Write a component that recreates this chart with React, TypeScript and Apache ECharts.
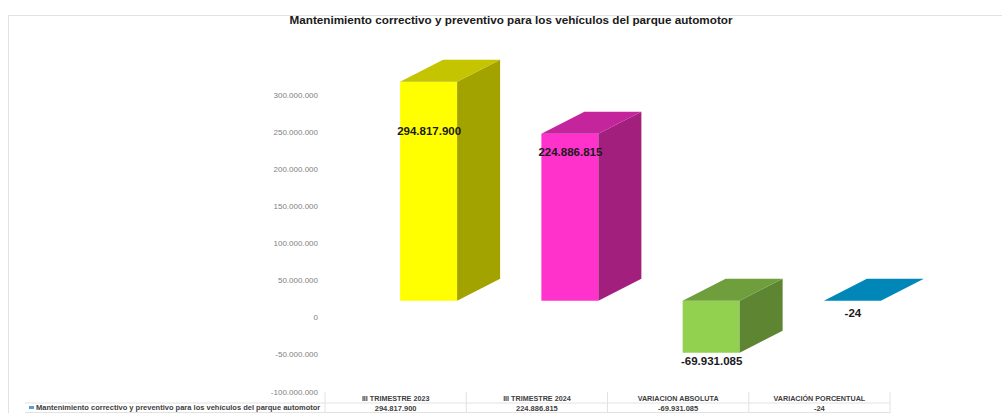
import React, { useEffect, useRef } from "react";
import * as echarts from "echarts";

const title = "Mantenimiento correctivo y preventivo para los vehículos del parque automotor";
const categories = ["III TRIMESTRE 2023", "III TRIMESTRE 2024", "VARIACION ABSOLUTA", "VARIACIÓN PORCENTUAL"];
const values = [294817900, 224886815, -69931085, -24];
const valueLabels = ["294.817.900", "224.886.815", "-69.931.085", "-24"];
const frontColors = ["#ffff00", "#ff33cc", "#92d050", "#0087b8"];
const topColors = ["#c4c400", "#c4249c", "#6f9e3d", "#0087b8"];
const sideColors = ["#a3a300", "#a31f7d", "#5e8532", "#0087b8"];
const labelOffsets = [-170, -149, 60, 12];

const GRID = { left: 325, width: 565, top: 95, height: 297 };
const DEPTH_X = 43;
const DEPTH_Y = 22;
const FLOOR = 17;
const BAR_W = 57;
const SHIFT = 33;

const fmtAxis = (v: number) => {
  const s = Math.abs(v).toString().replace(/\B(?=(\d{3})+(?!\d))/g, ".");
  return v < 0 ? "-" + s : s;
};

export default function App() {
  const ref = useRef<HTMLDivElement>(null);
  useEffect(() => {
    document.body.style.margin = "0";
    const chart = echarts.init(ref.current!, undefined, { renderer: "svg" });
    const gridLine = "#e2e2e2";
    const tableXs = [325, 466.3, 607.5, 748.8, 890];
    chart.setOption({
      animation: false,
      backgroundColor: "#fff",
      textStyle: { fontFamily: "Liberation Sans" },
      title: {
        text: title,
        left: 506,
        top: 8,
        textAlign: "center",
        textStyle: { fontSize: 11.7, fontWeight: "bold", color: "#1a1a1a", fontFamily: "Liberation Sans" },
      },
      grid: { ...GRID, containLabel: false, outerBoundsMode: "none" },
      xAxis: {
        type: "category",
        data: categories,
        axisLine: { show: false },
        axisTick: { show: false },
        axisLabel: {
          margin: 1,
          interval: 0,
          formatter: (_: string, i: number) => `{h|${categories[i]}}\n{v|${valueLabels[i]}}`,
          rich: {
            h: { fontSize: 7.2, fontWeight: "bold", color: "#404040", lineHeight: 10, fontFamily: "Liberation Sans" },
            v: { fontSize: 7.5, fontWeight: "bold", color: "#404040", lineHeight: 10, fontFamily: "Liberation Sans" },
          },
        },
      },
      yAxis: {
        type: "value",
        min: -100000000,
        max: 300000000,
        interval: 50000000,
        axisLine: { show: false },
        axisTick: { show: false },
        splitLine: { show: false },
        axisLabel: { margin: 7, fontSize: 8, color: "#7f7f7f", formatter: fmtAxis },
      },
      series: [
        {
          type: "custom",
          clip: false,
          data: values.map((v, i) => [i, v]),
          encode: { x: 0, y: 1 },
          renderItem: (params: any, api: any) => {
            const i = api.value(0);
            const v = api.value(1);
            const c = api.coord([i, v]);
            const z = api.coord([i, 0]);
            const x0 = c[0] + SHIFT - BAR_W / 2;
            const x1 = x0 + BAR_W;
            const base = z[1] - FLOOR;
            const val = c[1] - FLOOR;
            const top = Math.min(base, val);
            const bottom = Math.max(base, val);
            const poly = (points: number[][], fill: string) => ({
              type: "polygon",
              shape: { points },
              style: { fill, stroke: null },
            });
            const flat = bottom - top < 1;
            const children: any[] = [];
            if (!flat) {
              children.push(poly([[x0, top], [x1, top], [x1, bottom], [x0, bottom]], frontColors[i]));
              children.push(
                poly([[x1, top], [x1 + DEPTH_X, top - DEPTH_Y], [x1 + DEPTH_X, bottom - DEPTH_Y], [x1, bottom]], sideColors[i])
              );
            }
            children.push(
              poly([[x0, top], [x1, top], [x1 + DEPTH_X, top - DEPTH_Y], [x0 + DEPTH_X, top - DEPTH_Y]], topColors[i])
            );
            children.push({
              type: "text",
              x: x0 + BAR_W / 2 + 0.5,
              y: base + labelOffsets[i],
              style: {
                text: valueLabels[i],
                fontSize: 11.5,
                fontWeight: "bold",
                fontFamily: "Liberation Sans",
                fill: "#1a1a1a",
                align: "center",
                verticalAlign: "middle",
              },
            });
            return { type: "group", children };
          },
        },
      ],
      graphic: [
        { type: "line", shape: { x1: 8.5, y1: 16, x2: 8.5, y2: 413 }, style: { stroke: gridLine, lineWidth: 1 } },
        { type: "line", shape: { x1: 8, y1: 15.5, x2: 1002, y2: 15.5 }, style: { stroke: gridLine, lineWidth: 1 } },
        ...tableXs.map((x) => ({
          type: "line",
          shape: { x1: x, y1: 392, x2: x, y2: 413 },
          style: { stroke: gridLine, lineWidth: 1 },
        })),
        { type: "line", shape: { x1: 25, y1: 403, x2: 890, y2: 403 }, style: { stroke: gridLine, lineWidth: 1 } },
        { type: "line", shape: { x1: 25, y1: 412.5, x2: 890, y2: 412.5 }, style: { stroke: gridLine, lineWidth: 1 } },
        { type: "rect", shape: { x: 29, y: 406, width: 5, height: 3 }, style: { fill: "#5b9bd5" } },
        {
          type: "text",
          x: 36,
          y: 407.5,
          style: {
            text: title,
            fontSize: 7.5,
            fontWeight: "bold",
            fontFamily: "Liberation Sans",
            fill: "#404040",
            verticalAlign: "middle",
          },
        },
      ],
    });
    return () => chart.dispose();
  }, []);
  return <div ref={ref} style={{ position: "absolute", left: 0, top: 0, width: 1002, height: 413, overflow: "hidden" }} />;
}
